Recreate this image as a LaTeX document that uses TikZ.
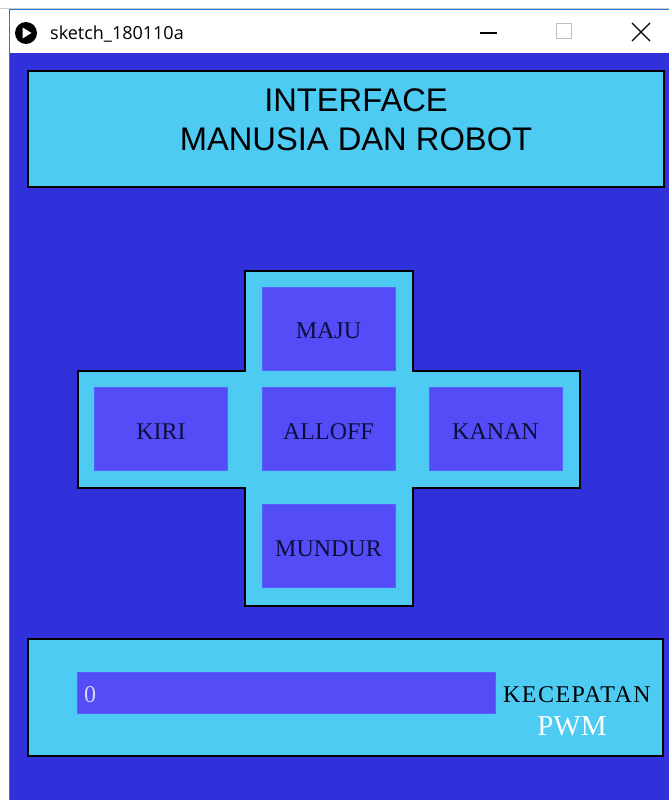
\documentclass[tikz,border=0pt]{standalone}
\usepackage{fontspec}
\usetikzlibrary{calc}
\setmainfont{Liberation Serif}
\newfontfamily\titlefont{Liberation Sans}
\newfontfamily\winfont{Open Sans}
\newfontfamily\widefont[LetterSpace=6]{Liberation Serif}
\definecolor{bgblue}{RGB}{49,49,220}
\definecolor{panel}{RGB}{77,203,243}
\definecolor{btn}{RGB}{84,76,246}
\definecolor{btnedge}{RGB}{90,96,250}
\definecolor{btntext}{RGB}{14,14,60}
\definecolor{winedge}{RGB}{40,120,215}
\definecolor{slidertext}{RGB}{215,215,250}
\tikzset{
  panelbox/.style={fill=panel, draw=black, line width=1.5pt},
  btnbox/.style={fill=btn, draw=btnedge, line width=0.8pt, inner sep=0pt,
    minimum width=133pt, minimum height=83pt, text height=20pt, text depth=0pt,
    text=btntext, font=\fontsize{24}{28}\selectfont},
  serifbig/.style={font=\fontsize{24}{28}\selectfont, inner sep=0pt},
  titletext/.style={font=\titlefont\fontsize{32.7}{39}\selectfont, inner sep=0pt, anchor=base},
}
\begin{document}
\begin{tikzpicture}[x=1pt,y=-1pt]
\useasboundingbox (0,0) rectangle (669,800);
% window frame and title bar
\fill[white] (0,0) rectangle (669,800);
\draw[gray!40, line width=0.8pt] (0,8.5) -- (669,8.5);
\fill[bgblue] (9.5,53) rectangle (669,800);
\draw[winedge, line width=1pt] (9.5,800) -- (9.5,10) -- (669,10);
\node[circle, fill=black, minimum size=22pt, inner sep=0pt] (icon) at (26,33) {};
\fill[white] ($(icon)+(-3.5,-5.5)$) -- ($(icon)+(5.5,0)$) -- ($(icon)+(-3.5,5.5)$) -- cycle;
\node[anchor=base west, inner sep=0pt, font=\winfont\fontsize{18}{21}\selectfont] (wintitle) at (50,40) {sketch\_180110a};
\coordinate (minA) at (480,33);
\coordinate (minB) at (497,33);
\draw[black, line width=1.2pt] (minA) -- (minB);
\node[draw=gray!50, line width=1pt, minimum size=15pt, inner sep=0pt] (maxbtn) at (564,31) {};
\coordinate (xA) at (632,23);
\coordinate (xB) at (650,41);
\coordinate (xC) at (650,23);
\coordinate (xD) at (632,41);
\draw[black, line width=1.2pt] (xA) -- (xB) (xC) -- (xD);
% title panel
\draw[panelbox] (28,71) rectangle (664,187);
\node[titletext] (title1) at (356,111) {INTERFACE};
\node[titletext] (title2) at (356,150) {MANUSIA DAN ROBOT};
% direction pad
\draw[panelbox] (245,271) -- (413,271) -- (413,371) -- (580,371) -- (580,488)
  -- (413,488) -- (413,606) -- (245,606) -- (245,488) -- (78,488) -- (78,371)
  -- (245,371) -- cycle;
\node[btnbox] (maju)   at (328.5,328.5) {MAJU};
\node[btnbox] (kiri)   at (161,429)   {KIRI};
\node[btnbox] (alloff) at (328.5,429) {ALLOFF};
\node[btnbox] (kanan)  at (495.5,429) {KANAN};
\node[btnbox] (mundur) at (328.5,546) {MUNDUR};
% speed panel
\draw[panelbox] (28,639) rectangle (663,756);
\node[fill=btn, draw=btnedge, line width=0.8pt, inner sep=0pt,
  minimum width=418pt, minimum height=41pt] (slider) at (286.5,692.5) {};
\node[serifbig, anchor=base west, text=slidertext] (sval) at (84,702) {0};
\node[inner sep=0pt, anchor=base west, text=black, font=\widefont\fontsize{24}{28}\selectfont] (kec) at (503,702) {KECEPATAN};
\node[anchor=base, inner sep=0pt, text=white, font=\fontsize{29}{33}\selectfont] (pwm) at (572,735) {PWM};
\end{tikzpicture}
\end{document}
